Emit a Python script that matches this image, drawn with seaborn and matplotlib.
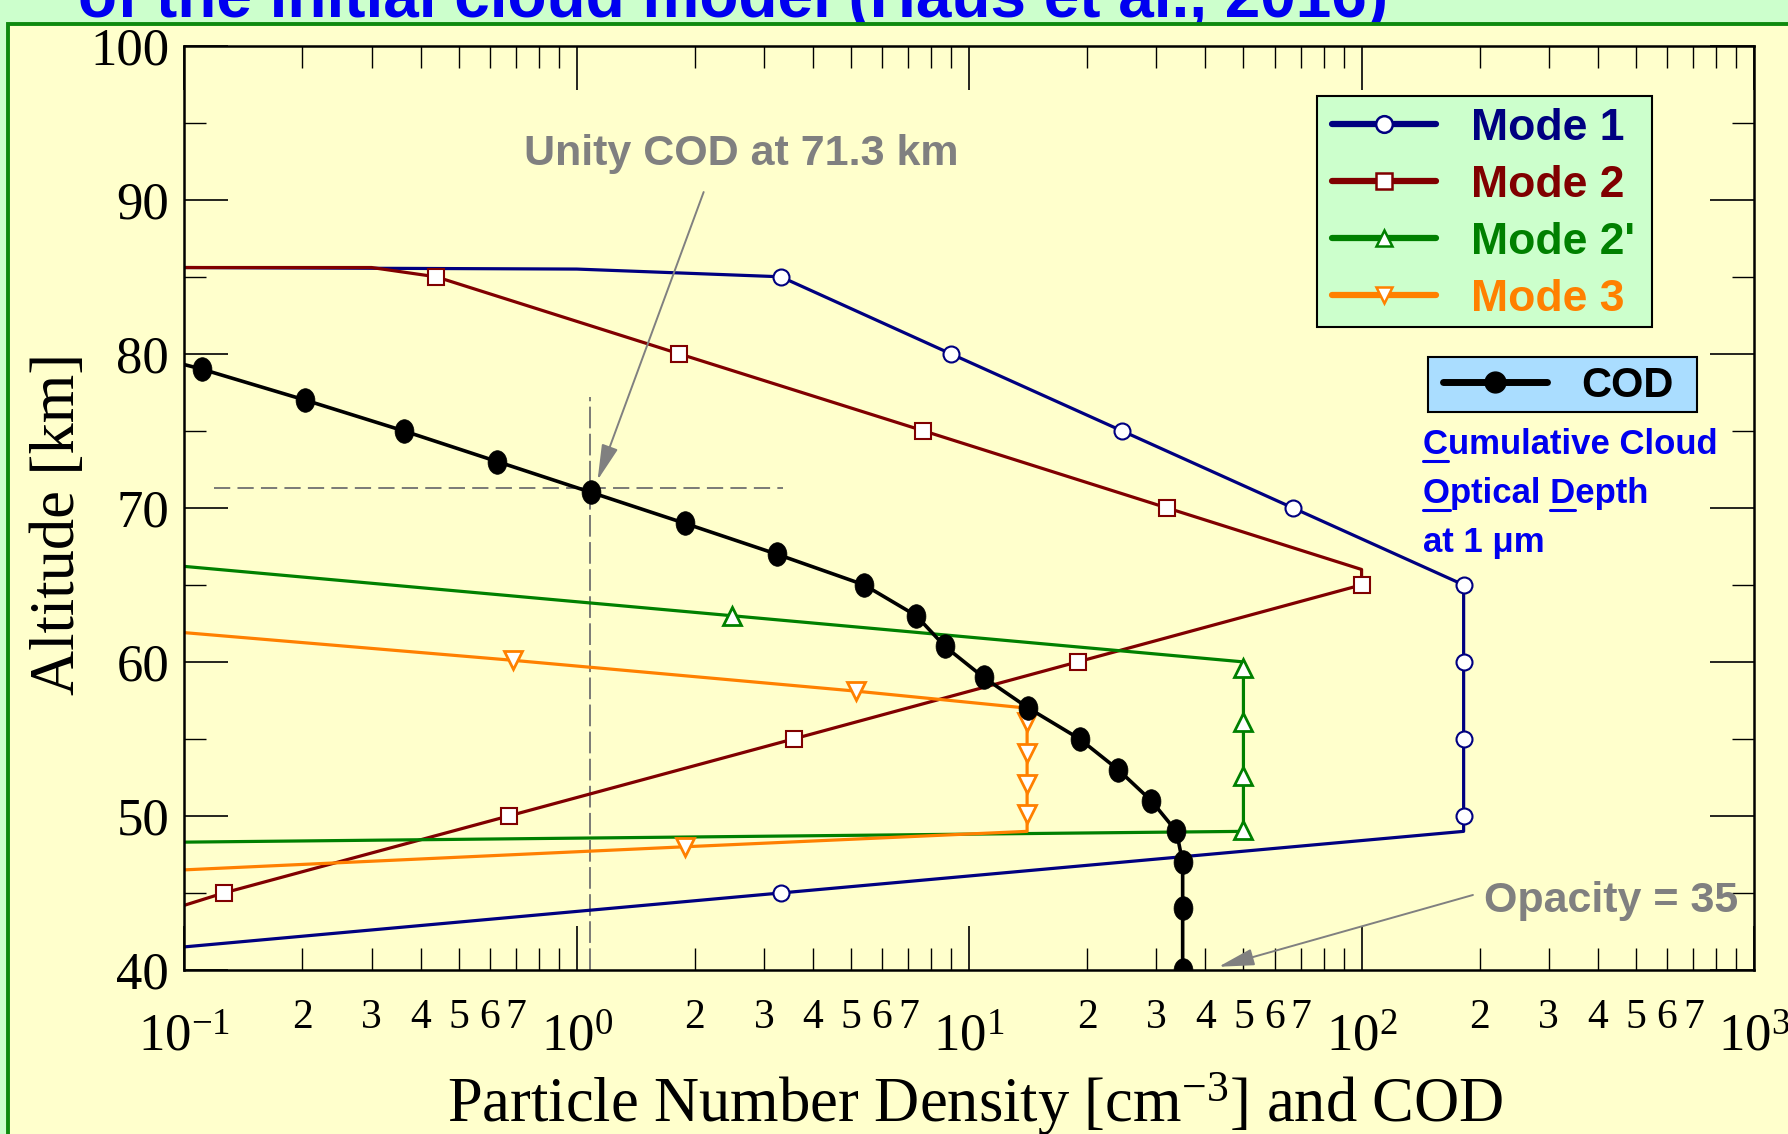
import numpy as np
import pandas as pd
import seaborn as sns
import matplotlib
matplotlib.use("Agg")
import matplotlib.pyplot as plt
from matplotlib import ticker
from matplotlib.patches import Rectangle
from matplotlib.lines import Line2D
from matplotlib.path import Path
from matplotlib.transforms import Affine2D
from matplotlib.font_manager import FontProperties

# ---------------- data ----------------
mode1_x = [0.1, 1.0, 3.31, 8.98, 24.5, 66.8, 182.0, 182.0, 182.0, 182.0, 182.0, 3.31, 0.1]
mode1_alt = [85.6, 85.5, 85.0, 80.0, 75.0, 70.0, 65.0, 60.0, 55.0, 50.0, 49.0, 45.0, 41.5]
mode1_marked = [2, 3, 4, 5, 6, 7, 8, 9, 11]

mode2_x = [0.1, 0.30, 0.438, 1.824, 7.65, 31.9, 100.0, 100.0, 18.9, 3.57, 0.671, 0.126, 0.1]
mode2_alt = [85.6, 85.6, 85.0, 80.0, 75.0, 70.0, 66.0, 65.0, 60.0, 55.0, 50.0, 45.0, 44.2]
mode2_marked = [2, 3, 4, 5, 7, 8, 9, 10, 11]

mode2p_x = [0.1, 2.48, 50.0, 50.0, 50.0, 50.0, 50.0, 50.0, 0.1]
mode2p_alt = [66.2, 63.0, 60.0, 59.6, 56.1, 52.6, 49.1, 49.0, 48.3]
mode2p_marked = [1, 3, 4, 5, 6]

mode3_x = [0.1, 0.69, 5.16, 14.05, 14.05, 14.05, 14.05, 14.05, 14.05, 1.89, 0.1]
mode3_alt = [61.9, 60.1, 58.1, 57.0, 56.1, 54.1, 52.1, 50.1, 49.0, 48.0, 46.5]
mode3_marked = [1, 2, 4, 5, 6, 7, 9]

cod_x = [0.1, 0.111, 0.203, 0.362, 0.628, 1.089, 1.884, 3.23, 5.40, 7.33, 8.68,
         10.88, 14.16, 19.12, 23.98, 29.09, 33.74, 35.0, 35.0, 35.0]
cod_alt = [79.3, 79.0, 77.0, 75.0, 73.0, 71.0, 69.0, 67.0, 65.0, 63.0, 61.0,
           59.0, 57.0, 55.0, 53.0, 51.0, 49.0, 47.0, 44.0, 40.0]
cod_marked = list(range(1, 20))

unity_alt = 71.3
unity_cod = 1.08
opacity = 35

series_labels = ["Mode 1", "Mode 2", "Mode 2'", "Mode 3"]
y_ticks = [40, 50, 60, 70, 80, 90, 100]

# ---------------- style ----------------
YELLOW = "#FFFFCC"
BAND = "#CCFFCC"
FRAME = "#0E8A0E"
C1, C2, C2P, C3 = "#000080", "#800000", "#008000", "#FF8000"
GRAY = "#808080"

sns.set_theme(style="ticks")
plt.rcParams["font.family"] = ["Liberation Serif", "DejaVu Serif"]
plt.rcParams["mathtext.fontset"] = "custom"
plt.rcParams["mathtext.rm"] = "Liberation Serif"
plt.rcParams["mathtext.it"] = "Liberation Serif:italic"
plt.rcParams["mathtext.bf"] = "Liberation Serif:bold"
plt.rcParams["axes.unicode_minus"] = False
for k in ["text.color", "axes.labelcolor", "xtick.color", "ytick.color",
          "xtick.labelcolor", "ytick.labelcolor", "axes.edgecolor"]:
    plt.rcParams[k] = "black"

W, H = 1788, 1134
fig = plt.figure(figsize=(W / 100, H / 100), dpi=100)
fig.patch.set_facecolor(BAND)


def fx(px):
    return px / W


def fy(py):
    return 1 - py / H


sans_b = dict(family=["Liberation Sans", "DejaVu Sans"], weight="bold")

# slide title (cut off at the top) and yellow panel
fig.text(fx(78), fy(17), "of the initial cloud model (Haus et al., 2016)",
         color="#0000F0", fontsize=46, ha="left", va="baseline", zorder=-3, **sans_b)
fig.add_artist(Rectangle((fx(7.5), -0.1), 1.2, fy(23.5) + 0.1, transform=fig.transFigure,
                         facecolor=YELLOW, edgecolor=FRAME, lw=2.8, zorder=-2))

ax = fig.add_axes([184.3 / W, 1 - 970 / H, (1754 - 184.3) / W, (970 - 45.7) / H])
ax.set_facecolor(YELLOW)
ax.set_xscale("log")
ax.set_xlim(0.1, 1000)
ax.set_ylim(40, 100)

# ---------------- series ----------------
def draw(xs, ys, color, marker, marked, ms, mfc, lw=2.3, mew=1.5, z=2):
    df = pd.DataFrame({"x": xs, "alt": ys})
    sns.lineplot(data=df, x="x", y="alt", sort=False, estimator=None, ax=ax,
                 color=color, lw=lw, marker=marker, markevery=marked, ms=ms,
                 markerfacecolor=mfc, markeredgecolor=color, markeredgewidth=mew,
                 zorder=z, legend=False)


ell = Path.unit_circle().transformed(Affine2D().scale(0.8, 1.0))

draw(mode1_x, mode1_alt, C1, "o", mode1_marked, 11.5, "white", z=2)
draw(mode2_x, mode2_alt, C2, "s", mode2_marked, 11.0, "white", z=2.1)
draw(mode2p_x, mode2p_alt, C2P, "^", mode2p_marked, 13.0, "white", mew=2.0, z=2.2)
draw(mode3_x, mode3_alt, C3, "v", mode3_marked, 13.0, "white", mew=2.0, z=2.3)
draw(cod_x, cod_alt, "black", ell, cod_marked, 17.0, "black", lw=2.6, mew=0.5, z=2.5)

# unity COD guide lines
ax.hlines(unity_alt, 0.1187, 3.356, colors="#707070", linestyles=(0, (9, 4)), lw=1.3, zorder=1.5)
ax.vlines(unity_cod, 40, 77.2, colors="#707070", linestyles=(0, (12, 3)), lw=1.3, zorder=1.5)

# ---------------- axes / ticks ----------------
ax.set_yticks(y_ticks)
ax.yaxis.set_minor_locator(ticker.MultipleLocator(5))
ax.xaxis.set_major_locator(ticker.LogLocator(base=10, numticks=10))
ax.xaxis.set_minor_locator(ticker.LogLocator(base=10, subs=np.arange(2, 10), numticks=40))
ax.xaxis.set_major_formatter(ticker.LogFormatterSciNotation())


def minor_fmt(x, pos):
    e = np.floor(np.log10(x) + 1e-9)
    m = int(round(x / 10 ** e))
    return str(m) if 2 <= m <= 7 else ""


ax.xaxis.set_minor_formatter(ticker.FuncFormatter(minor_fmt))

ax.tick_params(which="both", direction="in", top=True, right=True, colors="black")
ax.tick_params(which="major", length=31.5, width=1.2)
ax.tick_params(which="minor", length=15.5, width=1.0)
ax.tick_params(axis="x", which="major", labelsize=38, pad=32)
ax.tick_params(axis="x", which="minor", labelsize=30, pad=20.5)
ax.tick_params(axis="y", which="major", labelsize=38, pad=11)
for sp in ax.spines.values():
    sp.set_linewidth(1.8)
    sp.set_color("black")

ax.set_ylabel("Altitude [km]", fontsize=45)
ax.yaxis.label.set_va("center")
ax.yaxis.set_label_coords(-0.080, 0.483)
ax.set_xlabel("Particle Number Density [cm$^{-3}$] and COD", fontsize=45)
ax.xaxis.label.set_va("baseline")
ax.xaxis.set_label_coords(0.504, -0.1645)

# ---------------- annotations ----------------
ax.text(2.62, 92.26, "Unity COD at 71.3 km", ha="center", va="baseline",
        color=GRAY, fontsize=31, zorder=4, **sans_b)
ax.annotate("", xy=(1.13, 71.8), xytext=(2.106, 90.5),
            arrowprops=dict(arrowstyle="-|>,head_length=0.55,head_width=0.13",
                            color=GRAY, lw=1.4, shrinkA=0, shrinkB=0, mutation_scale=40),
            zorder=4)
ax.text(205, 43.78, f"Opacity = {opacity}", ha="left", va="baseline",
        color=GRAY, fontsize=31, zorder=4, **sans_b)
ax.annotate("", xy=(43.2, 40.21), xytext=(192.2, 44.87),
            arrowprops=dict(arrowstyle="-|>,head_length=0.55,head_width=0.13",
                            color=GRAY, lw=1.4, shrinkA=0, shrinkB=0, mutation_scale=40),
            zorder=4, annotation_clip=False)

# ---------------- legends ----------------
fig.add_artist(Rectangle((fx(1317.3), fy(326.7)), fx(1652.3) - fx(1317.3), fy(96) - fy(326.7),
                         transform=fig.transFigure, facecolor=BAND, edgecolor="black",
                         lw=1.5, zorder=3))
mode_colors = [C1, C2, C2P, C3]
mode_markers = ["o", "s", "^", "v"]
mode_ms = [12, 12, 12, 12]
handles = [Line2D([], [], color=c, lw=4.5, marker=m, ms=s, markerfacecolor="white",
                  markeredgecolor=c, markeredgewidth=1.8)
           for c, m, s in zip(mode_colors, mode_markers, mode_ms)]
leg1 = fig.legend(handles, series_labels, loc="upper left",
                  bbox_to_anchor=(fx(1332.3), fy(108)), frameon=False, borderpad=0,
                  borderaxespad=0, handlelength=2.34, handletextpad=0.79,
                  labelspacing=0.36, prop=dict(family="Liberation Sans", weight="bold", size=32))
for t, c in zip(leg1.get_texts(), mode_colors):
    t.set_color(c)

fig.add_artist(Rectangle((fx(1427.7), fy(411.7)), fx(1696.7) - fx(1427.7), fy(356.7) - fy(411.7),
                         transform=fig.transFigure, facecolor="#AADDFF", edgecolor="black",
                         lw=1.5, zorder=3))
cod_handle = Line2D([], [], color="black", lw=5.0, marker="o", ms=15, markerfacecolor="black",
                    markeredgecolor="black")
leg2 = fig.legend([cod_handle], ["COD"], loc="upper left",
                  bbox_to_anchor=(fx(1443.3), fy(366)), frameon=False, borderpad=0,
                  borderaxespad=0, handlelength=2.5, handletextpad=0.82,
                  prop=dict(family="Liberation Sans", weight="bold", size=30))
for t in leg2.get_texts():
    t.set_color("black")

# explanatory text with underlined initials
BLUE = "#0000EE"
fp = FontProperties(family="Liberation Sans", weight="bold", size=25)
x0 = 1422.7
lines_txt = ["Cumulative Cloud", "Optical Depth", "at 1 \u03bcm"]
baselines = [454, 502.7, 551.7]
for s, b in zip(lines_txt, baselines):
    fig.text(fx(x0), fy(b), s, fontproperties=fp, color=BLUE, ha="left", va="baseline", zorder=4)

fig.canvas.draw()
renderer = fig.canvas.get_renderer()


def text_w(s):
    t = fig.text(0, 0, s, fontproperties=fp)
    w = t.get_window_extent(renderer).width
    t.remove()
    return w


ul = [(x0, text_w("C"), baselines[0]),
      (x0, text_w("O"), baselines[1]),
      (x0 + text_w("Optical D") - text_w("D"), text_w("D"), baselines[1])]
for xs, w, b in ul:
    fig.add_artist(Line2D([fx(xs), fx(xs + w)], [fy(b + 7.5), fy(b + 7.5)],
                          transform=fig.transFigure, color=BLUE, lw=2.2, zorder=4))

fig.savefig("out.png", dpi=100, facecolor=fig.get_facecolor())
